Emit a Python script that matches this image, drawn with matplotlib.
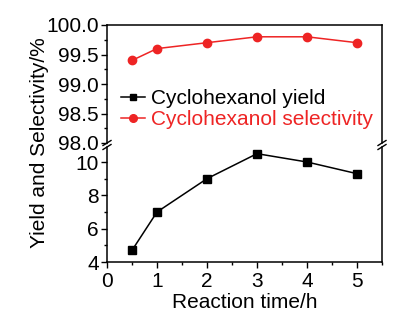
import matplotlib
matplotlib.use("Agg")
import matplotlib.pyplot as plt
from matplotlib.lines import Line2D
from matplotlib.ticker import MultipleLocator, FormatStrFormatter

plt.rcParams['font.family'] = ['Liberation Sans', 'DejaVu Sans']

time_h = [0.5, 1, 2, 3, 4, 5]
yield_pct = [4.7, 7.0, 9.0, 10.5, 10.0, 9.3]
selectivity_pct = [99.4, 99.6, 99.7, 99.8, 99.8, 99.7]

W, H = 399, 314
fig = plt.figure(figsize=(W / 100, H / 100), dpi=100)

L, R = 107 / W, 382 / W
ax_top = fig.add_axes([L, 1 - 143 / H, R - L, (143 - 25) / H])
ax_bot = fig.add_axes([L, 1 - 262 / H, R - L, (262 - 147) / H])

red = '#EE2424'
fs = 15
lw = 1.1

for ax in (ax_top, ax_bot):
    ax.set_xlim(0, 5.5)
    for s in ax.spines.values():
        s.set_linewidth(1.1)
    ax.tick_params(axis='both', which='both', direction='out', width=1.0,
                   labelsize=fs, top=False, right=False)
    ax.tick_params(axis='both', which='major', length=4, pad=2)
    ax.tick_params(axis='both', which='minor', length=2.5)

ax_top.plot(time_h, selectivity_pct, '-o', color=red, lw=lw, ms=6,
            label='Cyclohexanol selectivity')
ax_top.set_ylim(98.0, 100.0)
ax_top.yaxis.set_major_locator(MultipleLocator(0.5))
ax_top.yaxis.set_minor_locator(MultipleLocator(0.25))
ax_top.yaxis.set_major_formatter(FormatStrFormatter('%.1f'))
ax_top.spines['bottom'].set_visible(False)
ax_top.tick_params(axis='x', which='both', bottom=False, labelbottom=False)

ax_bot.plot(time_h, yield_pct, '-s', color='black', lw=lw, ms=5.5,
            label='Cyclohexanol yield')
ax_bot.set_ylim(4, 10.9)
ax_bot.yaxis.set_major_locator(MultipleLocator(2))
ax_bot.yaxis.set_minor_locator(MultipleLocator(1))
ax_bot.xaxis.set_major_locator(MultipleLocator(1))
ax_bot.xaxis.set_minor_locator(MultipleLocator(0.5))
ax_bot.spines['top'].set_visible(False)
ax_bot.tick_params(axis='x', which='major', pad=3)
ax_bot.set_xlabel('Reaction time/h', fontsize=fs, labelpad=2)

# break marks
for xp in (107, 382):
    for dy in (-2, 2):
        y0 = 145 + dy
        fig.add_artist(Line2D([(xp - 4) / W, (xp + 4) / W],
                              [1 - (y0 + 2.5) / H, 1 - (y0 - 2.5) / H],
                              transform=fig.transFigure, color='black', lw=1.0))

fig.text(40 / W, 1 - 143 / H, 'Yield and Selectivity/%', rotation=90,
         ha='center', va='center', fontsize=fs)

h1 = Line2D([], [], color='black', marker='s', lw=lw, ms=5)
h2 = Line2D([], [], color=red, marker='o', lw=lw, ms=5.5)
leg = fig.legend([h1, h2], ['Cyclohexanol yield', 'Cyclohexanol selectivity'],
                 loc='center left', bbox_to_anchor=(121 / W, 1 - 109 / H),
                 bbox_transform=fig.transFigure, frameon=False, fontsize=fs,
                 borderpad=0, borderaxespad=0, handlelength=1.15,
                 handletextpad=0.3, labelspacing=0.1)
leg.get_texts()[1].set_color(red)

fig.savefig('out.png', dpi=100)
